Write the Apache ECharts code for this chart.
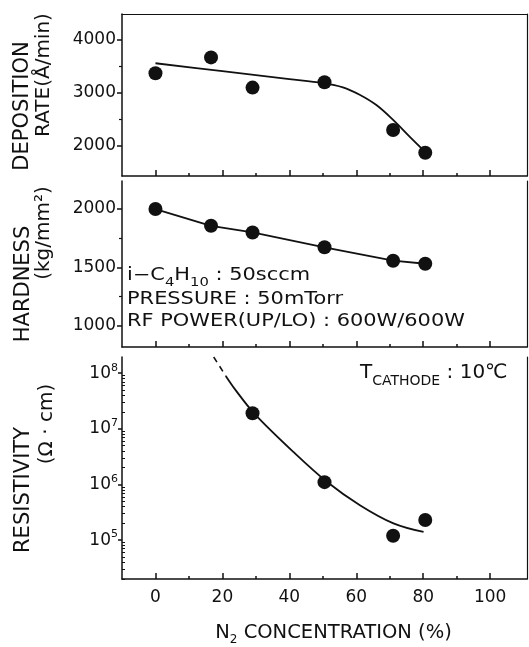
<!DOCTYPE html>
<html>
<head>
<meta charset="utf-8">
<script src="https://cdn.jsdelivr.net/npm/echarts@6/dist/echarts.min.js"></script>
<style>
  html, body { margin: 0; padding: 0; background: #fff; }
  #chart { width: 529px; height: 647px; }
</style>
</head>
<body>
<div id="chart"></div>
<script>
// N2 concentration (%) of the samples
var n2 = [0, 16.6, 29, 50.5, 71, 80.6];

// deposition rate (A/min)
var depRate = [3370, 3670, 3100, 3200, 2300, 1870];
var depCurveX = [0, 20, 40, 50, 56, 61, 66, 71, 76, 80.5];
var depCurveY = [3560, 3410, 3260, 3185, 3105, 2965, 2770, 2490, 2170, 1890];

// hardness (kg/mm2)
var hardness = [2000, 1857, 1800, 1673, 1558, 1532];

// resistivity (ohm cm), measured from 29 % upward
var resX = [29, 50.5, 71, 80.6];
var resY = [1.9e7, 1.1e6, 1.2e5, 2.3e5];
var resCurveX = [21, 24, 29.6, 41.3, 51.2, 61.2, 71.1, 80.1];
var resCurveY = [8.9e7, 4.9e7, 1.86e7, 3.8e6, 1.12e6, 4.2e5, 2.0e5, 1.4e5];
var resDashX = [17.4, 21];
var resDashY = [1.95e8, 8.9e7];

// ticks
var xTicks = [0, 20, 40, 60, 80, 100];
var xMinor = [10, 30, 50, 70, 90];
var depTicks = [2000, 3000, 4000];
var depMinor = [2500, 3500];
var hardTicks = [1000, 1500, 2000];
var hardMinor = [1250, 1750];
var resTicks = [1e5, 1e6, 1e7, 1e8];
var resMinor = [];
for (var e = 4; e <= 7; e++) {
  for (var m = 2; m <= 9; m++) resMinor.push(m * Math.pow(10, e));
}

var FONT = 'DejaVu Sans';
var INK = '#111';

function pairs(xs, ys) {
  return xs.map(function (x, i) { return [x, ys[i]]; });
}
function plain(v) { return String(v); }

function xMain(grid, labels) {
  return {
    type: 'value', gridIndex: grid, min: -10, max: 111, position: 'bottom',
    axisLine: { show: true, onZero: false, lineStyle: { color: INK, width: 1.5 } },
    axisTick: { show: true, inside: true, length: 6, customValues: xTicks, lineStyle: { color: INK, width: 1.5 } },
    axisLabel: { show: labels, customValues: xTicks, margin: 10, color: INK, fontFamily: FONT, fontSize: 17, formatter: plain },
    splitLine: { show: false }
  };
}
function xMinorAxis(grid) {
  return {
    type: 'value', gridIndex: grid, min: -10, max: 111, position: 'bottom',
    axisLine: { show: false, onZero: false },
    axisTick: { show: true, inside: true, length: 3, customValues: xMinor, lineStyle: { color: INK, width: 1.5 } },
    axisLabel: { show: false },
    splitLine: { show: false }
  };
}
function yMain(grid, min, max, ticks, extra) {
  var ax = {
    type: 'value', gridIndex: grid, min: min, max: max, position: 'left',
    axisLine: { show: true, onZero: false, lineStyle: { color: INK, width: 1.5 } },
    axisTick: { show: true, length: 5, customValues: ticks, lineStyle: { color: INK, width: 1.5 } },
    axisLabel: { customValues: ticks, margin: 6, color: INK, fontFamily: FONT, fontSize: 17, formatter: plain },
    splitLine: { show: false }
  };
  return Object.assign(ax, extra || {});
}
function yMinorAxis(grid, min, max, ticks, extra) {
  var ax = {
    type: 'value', gridIndex: grid, min: min, max: max, position: 'left',
    axisLine: { show: false, onZero: false },
    axisTick: { show: true, length: 3, customValues: ticks, lineStyle: { color: INK, width: 1.2 } },
    axisLabel: { show: false },
    splitLine: { show: false }
  };
  return Object.assign(ax, extra || {});
}
function yBorder(grid, min, max, extra) {
  var ax = {
    type: 'value', gridIndex: grid, min: min, max: max, position: 'right',
    axisLine: { show: true, onZero: false, lineStyle: { color: INK, width: 1.2 } },
    axisTick: { show: false }, axisLabel: { show: false }, splitLine: { show: false }
  };
  return Object.assign(ax, extra || {});
}

function vtitle(text, x, y, size) {
  return {
    type: 'text', x: x, y: y, rotation: Math.PI / 2,
    style: { text: text, fill: INK, fontFamily: FONT, fontSize: size, align: 'center', verticalAlign: 'middle' }
  };
}
function note(text, x, y, size, sx, rich) {
  return {
    type: 'text', x: x, y: y, scaleX: sx,
    style: { text: text, fill: INK, fontFamily: FONT, fontSize: size, align: 'left', verticalAlign: 'middle', rich: rich || {} }
  };
}

var subRich = { sub: { fontSize: 12, fontFamily: FONT, fill: INK, verticalAlign: 'bottom', lineHeight: 25 } };

var chart = echarts.init(document.getElementById('chart'), null, { renderer: 'canvas' });

var option = {
  backgroundColor: '#fff',
  animation: false,
  grid: [
    { left: 122, top: 14, width: 405, height: 162 },
    { left: 122, top: 181, width: 405, height: 166 },
    { left: 122, top: 357, width: 405, height: 229 }
  ],
  xAxis: [
    xMain(0, false),
    xMinorAxis(0),
    Object.assign(xMain(0, false), {
      position: 'top', axisTick: { show: false },
      axisLine: { show: true, onZero: false, lineStyle: { color: INK, width: 1.2 } }
    }),
    xMain(1, false),
    xMinorAxis(1),
    Object.assign(xMain(2, true), {
      name: 'N{sub|2} CONCENTRATION (%)',
      nameLocation: 'middle', nameGap: 40,
      nameTextStyle: {
        color: INK, fontFamily: FONT, fontSize: 19.5, padding: [0, 0, 0, 18],
        rich: { sub: { fontSize: 12, fontFamily: FONT, color: INK, verticalAlign: 'bottom', lineHeight: 27 } }
      }
    }),
    xMinorAxis(2)
  ],
  yAxis: [
    yMain(0, 1430, 4490, depTicks),
    yMinorAxis(0, 1430, 4490, depMinor),
    yBorder(0, 1430, 4490),
    yMain(1, 820, 2240, hardTicks),
    yMinorAxis(1, 820, 2240, hardMinor),
    yBorder(1, 820, 2240),
    yMain(2, 2e4, 1.95e8, resTicks, {
      type: 'log', logBase: 10,
      axisTick: { show: true, length: 4, customValues: resTicks, lineStyle: { color: INK, width: 1.5 } },
      axisLabel: {
        customValues: resTicks, margin: 4, color: INK, fontFamily: FONT, fontSize: 17,
        formatter: function (v) {
          return '10{sup|' + Math.round(Math.log10(v)) + '}';
        },
        rich: { sup: { fontSize: 11, fontFamily: FONT, color: INK, verticalAlign: 'top', lineHeight: 22 } }
      }
    }),
    yMinorAxis(2, 2e4, 1.95e8, resMinor, {
      type: 'log', logBase: 10,
      axisTick: { show: true, inside: true, length: 3, customValues: resMinor, lineStyle: { color: INK, width: 1 } }
    }),
    yBorder(2, 2e4, 1.95e8, { type: 'log', logBase: 10 })
  ],
  series: [
    {
      type: 'line', xAxisIndex: 0, yAxisIndex: 0, smooth: 0.35, symbol: 'none',
      lineStyle: { color: INK, width: 1.8 },
      data: pairs(depCurveX, depCurveY)
    },
    {
      type: 'scatter', xAxisIndex: 0, yAxisIndex: 0, symbolSize: 14,
      itemStyle: { color: INK, opacity: 1 }, data: pairs(n2, depRate)
    },
    {
      type: 'line', xAxisIndex: 3, yAxisIndex: 3, symbol: 'circle', symbolSize: 14, showSymbol: true,
      lineStyle: { color: INK, width: 1.8 }, itemStyle: { color: INK, opacity: 1 },
      data: pairs(n2, hardness)
    },
    {
      type: 'line', xAxisIndex: 5, yAxisIndex: 6, smooth: 0.35, symbol: 'none',
      lineStyle: { color: INK, width: 1.8 },
      data: pairs(resCurveX, resCurveY)
    },
    {
      type: 'line', xAxisIndex: 5, yAxisIndex: 6, symbol: 'none',
      lineStyle: { color: INK, width: 1.6, type: [6, 5] },
      data: pairs(resDashX, resDashY)
    },
    {
      type: 'scatter', xAxisIndex: 5, yAxisIndex: 6, symbolSize: 14,
      itemStyle: { color: INK, opacity: 1 }, data: pairs(resX, resY)
    }
  ],
  graphic: [
    vtitle('DEPOSITION', 23, 106, 21),
    vtitle('RATE(\u00C5/min)', 44, 75, 20),
    vtitle('HARDNESS', 24, 284, 21),
    vtitle('(kg/mm\u00B2)', 44, 233, 20),
    vtitle('RESISTIVITY', 24, 490, 21),
    vtitle('(\u03A9 \u00B7 cm)', 47, 424, 20),
    note('i\u2212C{sub|4}H{sub|10} : 50sccm', 127, 276, 17, 1.23, subRich),
    note('PRESSURE : 50mTorr', 127, 300, 17, 1.23),
    note('RF POWER(UP/LO) : 600W/600W', 127, 322, 17, 1.23),
    note('T{sub|CATHODE} : 10\u2103', 360, 373, 20, 1.0,
      { sub: { fontSize: 14, fontFamily: FONT, fill: INK, verticalAlign: 'bottom', lineHeight: 30 } })
  ]
};

chart.setOption(option);
</script>
</body>
</html>
